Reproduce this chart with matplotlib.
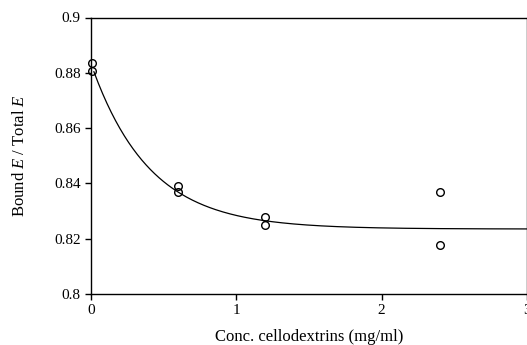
import matplotlib
matplotlib.use("Agg")
import matplotlib.pyplot as plt
import numpy as np

plt.rcParams['font.family'] = ['Liberation Serif', 'DejaVu Serif']
plt.rcParams['mathtext.fontset'] = 'custom'
plt.rcParams['mathtext.rm'] = 'Liberation Serif'
plt.rcParams['mathtext.it'] = 'Liberation Serif:italic'

# measured points
conc = [0.01, 0.01, 0.6, 0.6, 1.2, 1.2, 2.4, 2.4]
bound = [0.8837, 0.8808, 0.8390, 0.8368, 0.8278, 0.8250, 0.8369, 0.8177]

# fitted curve: y = plateau + amp * exp(-x / tau)
plateau = 0.8235
amp = 0.0598
tau = 0.40

xticks = [0, 1, 2, 3]
yticks = [0.8, 0.82, 0.84, 0.86, 0.88, 0.9]
ytick_labels = ['0.8', '0.82', '0.84', '0.86', '0.88', '0.9']

fig = plt.figure(figsize=(5.27, 3.45), dpi=100)
ax = fig.add_axes([91 / 527, 1 - 294 / 345, 436 / 527, 276.5 / 345])

xs = np.linspace(0.02, 3, 300)
ax.plot(xs, plateau + amp * np.exp(-xs / tau), color='black', lw=0.9)
ax.plot(conc, bound, 'o', mfc='none', mec='black', ms=5.5, mew=1.0, clip_on=False)

ax.set_xlim(0, 3)
ax.set_ylim(0.8, 0.9)
ax.set_xticks(xticks)
ax.set_yticks(yticks)
ax.set_yticklabels(ytick_labels)
ax.tick_params(direction='out', length=4, width=1, labelsize=11, colors='black')
ax.tick_params(axis='x', pad=3)
for s in ax.spines.values():
    s.set_linewidth(1.0)

ax.set_ylabel(r'Bound $E$ / Total $E$', fontsize=12)
ax.yaxis.set_label_coords(-0.145, 0.5)
ax.set_xlabel('Conc. cellodextrins (mg/ml)', fontsize=12)
ax.xaxis.set_label_coords(0.5, -0.125)

fig.savefig('out.png', dpi=100)
